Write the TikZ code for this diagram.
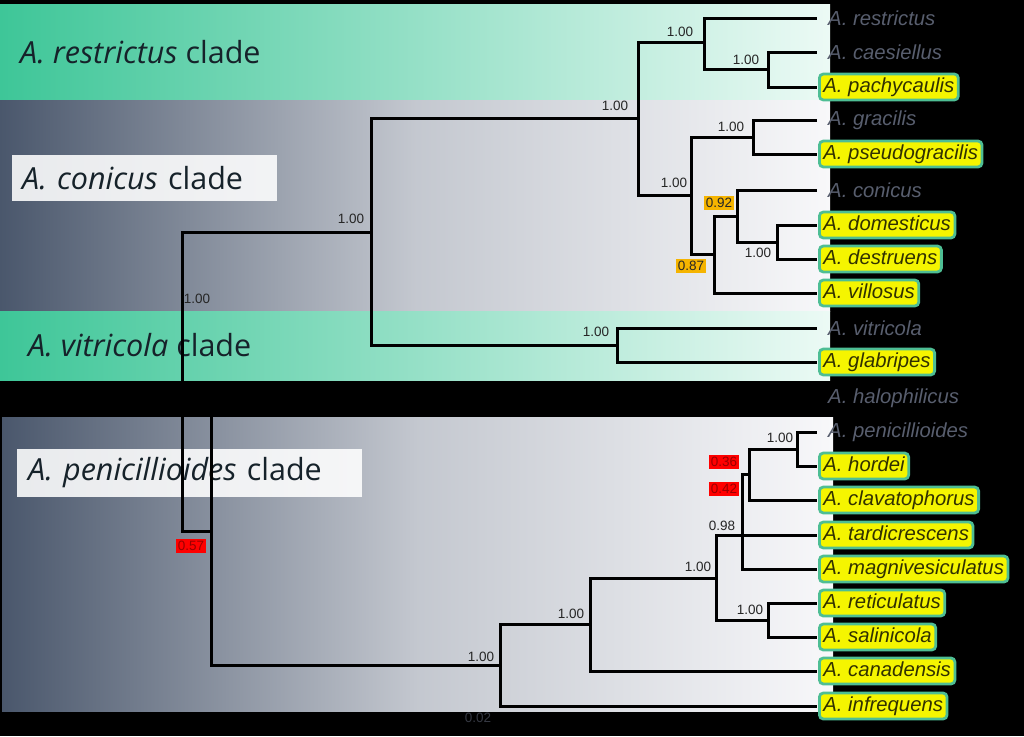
\documentclass[tikz,border=0pt]{standalone}
\usepackage{fontspec}
\setmainfont{Liberation Sans}
\newfontfamily\cladefont{Open Sans}
\definecolor{gL}{RGB}{62,198,152}
\definecolor{gR}{RGB}{236,250,245}
\definecolor{sL}{RGB}{74,87,108}
\definecolor{sR}{RGB}{248,248,250}
\definecolor{teal}{RGB}{78,190,148}
\definecolor{ylw}{RGB}{245,245,0}
\definecolor{ora}{RGB}{245,180,0}
\definecolor{leafgray}{RGB}{88,94,110}
\definecolor{cladetxt}{RGB}{22,34,42}
\tikzset{
  br/.style={line width=3pt, black, line cap=rect},
  plainleaf/.style={anchor=west, inner xsep=5pt, font=\fontsize{20.3}{21}\selectfont\itshape, text=leafgray},
  boxleaf/.style={anchor=west, inner xsep=4pt, inner ysep=3pt, text height=15pt, text depth=5pt, font=\fontsize{20.3}{21}\selectfont\itshape, text=black!80!ylw, fill=ylw, draw=teal, line width=2.8pt, rounded corners=4pt},
  sup/.style={font=\fontsize{13.5}{14}\selectfont, text=black!85, inner sep=1pt},
  supO/.style={sup, fill=ora, inner sep=2pt},
  supR/.style={sup, fill=red, text=red!60!black, inner sep=2pt},
  clade/.style={anchor=west, font=\cladefont\fontsize{30.5}{32}\selectfont, text=cladetxt},
  cladebox/.style={fill=white, fill opacity=0.88, text opacity=1, align=left}
}
\begin{document}
\begin{tikzpicture}[x=1pt,y=-1pt]
\useasboundingbox (0,0) rectangle (1024,736);
\fill[black] (0,0) rectangle (1024,736);
% panels
\shade[left color=gL, right color=gR] (0,4) rectangle (830,100);
\shade[left color=sL, right color=sR, middle color=sL!30!sR] (0,100) rectangle (830,311);
\shade[left color=gL, right color=gR] (0,311) rectangle (830,380);
\shade[left color=sL, right color=sR, middle color=sL!30!sR] (2,417) rectangle (833,711);
% clade labels
\node[clade, inner sep=0pt] (cl1) at (20,52) {\itshape A. restrictus\/\upshape\ clade};
\node[clade, cladebox, inner xsep=10pt, inner ysep=0pt, text width=245pt, minimum height=46pt] (cl2) at (12,178) {\itshape A. conicus\/\upshape\ clade};
\node[clade, inner sep=0pt] (cl3) at (28,345) {\itshape A. vitricola\/\upshape\ clade};
\node[clade, cladebox, inner xsep=11pt, inner ysep=0pt, text width=323pt, minimum height=48pt] (cl4) at (17,473) {\itshape A. penicillioides\/\upshape\ clade};
% leaf tips
\coordinate (t1) at (815,18);
\coordinate (t2) at (815,52);
\coordinate (t3) at (815,87);
\coordinate (t4) at (815,120);
\coordinate (t5) at (815,154);
\coordinate (t6) at (815,190);
\coordinate (t7) at (815,225);
\coordinate (t8) at (815,259);
\coordinate (t9) at (815,293);
\coordinate (t10) at (815,328);
\coordinate (t11) at (815,362);
\coordinate (t12) at (815,398);
\coordinate (t13) at (815,432);
\coordinate (t14) at (815,466);
\coordinate (t15) at (815,500);
\coordinate (t16) at (815,535);
\coordinate (t17) at (815,569);
\coordinate (t18) at (815,603);
\coordinate (t19) at (815,637);
\coordinate (t20) at (815,671);
\coordinate (t21) at (815,706);
% internal nodes
\coordinate (R) at (182,381);
\coordinate (U) at (371,232);
\coordinate (N1) at (638,118);
\coordinate (N2) at (704,42);
\coordinate (N3) at (768,69.5);
\coordinate (N5) at (691,195);
\coordinate (N4) at (753,137);
\coordinate (N6) at (714,254);
\coordinate (N7) at (737,216);
\coordinate (N8) at (777,242);
\coordinate (V) at (617,345);
\coordinate (P) at (211,531);
\coordinate (Q) at (500,665);
\coordinate (W) at (590,624);
\coordinate (X) at (716,578);
\coordinate (Y) at (742,535);
\coordinate (Z) at (768,620);
\coordinate (B) at (749,474);
\coordinate (A) at (797,449);
% branches
\draw[br] (R) |- (U);  \draw[br] (R) |- (P);
\draw[br] (U) |- (N1); \draw[br] (U) |- (V);
\draw[br] (N1) |- (N2); \draw[br] (N1) |- (N5);
\draw[br] (N2) |- (t1); \draw[br] (N2) |- (N3);
\draw[br] (N3) |- (t2); \draw[br] (N3) |- (t3);
\draw[br] (N5) |- (N4); \draw[br] (N5) |- (N6);
\draw[br] (N4) |- (t4); \draw[br] (N4) |- (t5);
\draw[br] (N6) |- (N7); \draw[br] (N6) |- (t9);
\draw[br] (N7) |- (t6); \draw[br] (N7) |- (N8);
\draw[br] (N8) |- (t7); \draw[br] (N8) |- (t8);
\draw[br] (V) |- (t10); \draw[br] (V) |- (t11);
\draw[br] (P) |- (t12); \draw[br] (P) |- (Q);
\draw[br] (Q) |- (W); \draw[br] (Q) |- (t21);
\draw[br] (W) |- (X); \draw[br] (W) |- (t20);
\draw[br] (X) |- (Y); \draw[br] (X) |- (Z);
\draw[br] (Z) |- (t18); \draw[br] (Z) |- (t19);
\draw[br] (Y) |- (B); \draw[br] (Y) |- (t16); \draw[br] (Y) |- (t17);
\draw[br] (B) |- (A); \draw[br] (B) |- (t15);
\draw[br] (A) |- (t13); \draw[br] (A) |- (t14);
% support values
\node[sup] (s1) at (680,32) {1.00};
\node[sup] (s2) at (746,60) {1.00};
\node[sup] (s3) at (615,106) {1.00};
\node[sup] (s4) at (731,127) {1.00};
\node[sup] (s5) at (674,183) {1.00};
\node[supO] (s6) at (719,203) {0.92};
\node[sup] (s7) at (758,253) {1.00};
\node[supO] (s8) at (691,266) {0.87};
\node[sup] (s9) at (596,332) {1.00};
\node[sup] (s10) at (351,219) {1.00};
\node[sup] (s11) at (197,299) {1.00};
\node[supR] (s12) at (191,546) {0.57};
\node[sup] (s13) at (780,438) {1.00};
\node[supR] (s14) at (724,462) {0.36};
\node[supR] (s15) at (724,489) {0.42};
\node[sup] (s16) at (722,526) {0.98};
\node[sup] (s17) at (698,567) {1.00};
\node[sup] (s18) at (750,610) {1.00};
\node[sup] (s19) at (571,614) {1.00};
\node[sup] (s20) at (481,657) {1.00};
\node[sup, text=leafgray!60!black] (scale) at (478,718) {0.02};
% leaf labels
\node[plainleaf] (l1) at (823,18) {A. restrictus};
\node[plainleaf] (l2) at (823,52) {A. caesiellus};
\node[boxleaf] (l3) at (818,87) {A. pachycaulis};
\node[plainleaf] (l4) at (823,120) {A. gracilis};
\node[boxleaf] (l5) at (818,154) {A. pseudogracilis};
\node[plainleaf] (l6) at (823,190) {A. conicus};
\node[boxleaf] (l7) at (818,225) {A. domesticus};
\node[boxleaf] (l8) at (818,259) {A. destruens};
\node[boxleaf] (l9) at (818,293) {A. villosus};
\node[plainleaf] (l10) at (823,328) {A. vitricola};
\node[boxleaf] (l11) at (818,362) {A. glabripes};
\node[plainleaf] (l12) at (823,398) {A. halophilicus};
\node[plainleaf] (l13) at (823,432) {A. penicillioides};
\node[boxleaf] (l14) at (818,466) {A. hordei};
\node[boxleaf] (l15) at (818,500) {A. clavatophorus};
\node[boxleaf] (l16) at (818,535) {A. tardicrescens};
\node[boxleaf] (l17) at (818,569) {A. magnivesiculatus};
\node[boxleaf] (l18) at (818,603) {A. reticulatus};
\node[boxleaf] (l19) at (818,637) {A. salinicola};
\node[boxleaf] (l20) at (818,671) {A. canadensis};
\node[boxleaf] (l21) at (818,706) {A. infrequens};
\end{tikzpicture}
\end{document}
